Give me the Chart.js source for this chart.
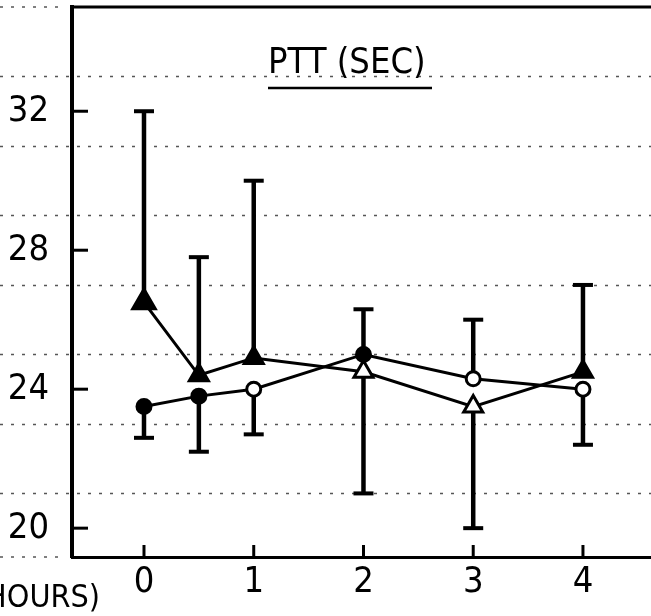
<!DOCTYPE html>
<html>
<head>
<meta charset="utf-8">
<title>PTT (SEC)</title>
<script src="https://cdn.jsdelivr.net/npm/chart.js@4.4.1/dist/chart.umd.min.js"></script>
<style>
    html, body { margin: 0; padding: 0; background: #fff; }
    canvas { display: block; }
</style>
</head>
<body>
<canvas id="pttChart" width="651" height="616"></canvas>
<script>
// Time points (hours) and axis ticks
const hours = [0, 0.5, 1, 2, 3, 4];
const xTicks = [0, 1, 2, 3, 4];
const yTicks = [20, 24, 28, 32];
const guideLines = [21, 23, 25, 27, 29, 31, 33];

// Triangle series: mean and the end of its error bar
const triMean = [26.5, 24.4, 24.9, 24.5, 23.5, 24.5];
const triBarEnd = [32.0, 27.8, 30.0, 21.0, 20.0, 27.0];

// Circle series: mean and the end of its error bar
const circMean = [23.5, 23.8, 24.0, 25.0, 24.3, 24.0];
const circBarEnd = [22.6, 22.2, 22.7, 26.3, 26.0, 22.4];

const FONT = '"Liberation Sans Narrow", "DejaVu Sans Condensed", sans-serif';

// Frame, inward ticks, dotted paper lines and error bars
const scanExtras = {
    id: 'scanExtras',
    beforeDatasetsDraw(chart) {
        const { ctx, chartArea, scales: { x, y } } = chart;
        ctx.save();

        // dotted paper lines across the whole sheet
        ctx.strokeStyle = '#555';
        ctx.lineWidth = 1.3;
        ctx.setLineDash([3, 8]);
        guideLines.forEach(v => {
            const py = Math.round(y.getPixelForValue(v)) + 0.5;
            ctx.beginPath();
            ctx.moveTo(0, py);
            ctx.lineTo(chart.width, py);
            ctx.stroke();
        });
        // faint continuation of top and bottom rules to the left
        [chartArea.top, chartArea.bottom].forEach(py => {
            ctx.beginPath();
            ctx.moveTo(0, py);
            ctx.lineTo(chartArea.left - 12, py);
            ctx.stroke();
        });
        ctx.setLineDash([]);

        // top rule of the frame
        ctx.strokeStyle = '#000';
        ctx.lineWidth = 3;
        ctx.beginPath();
        ctx.moveTo(chartArea.left - 2, chartArea.top);
        ctx.lineTo(chartArea.right, chartArea.top);
        ctx.stroke();

        // inward tick marks
        yTicks.forEach(v => {
            const py = y.getPixelForValue(v);
            ctx.beginPath();
            ctx.moveTo(chartArea.left, py);
            ctx.lineTo(chartArea.left + 16, py);
            ctx.stroke();
        });
        xTicks.forEach(v => {
            const px = x.getPixelForValue(v);
            ctx.beginPath();
            ctx.moveTo(px, chartArea.bottom);
            ctx.lineTo(px, chartArea.bottom - 12);
            ctx.stroke();
        });

        // error bars (one-sided, with caps)
        [[triMean, triBarEnd], [circMean, circBarEnd]].forEach(([mean, end]) => {
            hours.forEach((h, i) => {
                const px = x.getPixelForValue(h);
                const p0 = y.getPixelForValue(mean[i]);
                const p1 = y.getPixelForValue(end[i]);
                ctx.lineWidth = 4.5;
                ctx.beginPath();
                ctx.moveTo(px, p0);
                ctx.lineTo(px, p1);
                ctx.stroke();
                ctx.lineWidth = 4;
                ctx.beginPath();
                ctx.moveTo(px - 10, p1);
                ctx.lineTo(px + 10, p1);
                ctx.stroke();
            });
        });
        ctx.restore();
    },
    afterDraw(chart) {
        const ctx = chart.ctx;
        ctx.save();
        ctx.fillStyle = '#000';
        ctx.strokeStyle = '#000';
        ctx.textBaseline = 'middle';

        // panel title, underlined
        ctx.font = `36px ${FONT}`;
        ctx.textAlign = 'left';
        ctx.fillText('PTT (SEC)', 268, 64);
        ctx.lineWidth = 2.5;
        ctx.beginPath();
        ctx.moveTo(268, 88);
        ctx.lineTo(432, 88);
        ctx.stroke();

        // x axis label, cut at the sheet edge
        ctx.font = `32px ${FONT}`;
        ctx.textAlign = 'right';
        ctx.fillText('(HOURS)', 100, 599);
        ctx.restore();
    }
};

// Drop the label overhang padding so the frame fills the sheet
function fixPadding(scale) {
    scale.paddingTop = 0;
    scale.paddingBottom = 0;
    scale.paddingLeft = 0;
    scale.paddingRight = 0;
}

document.addEventListener('DOMContentLoaded', function() {
    const canvas = document.getElementById('pttChart');

    new Chart(canvas.getContext('2d'), {
        type: 'line',
        data: {
            datasets: [{
                label: 'Triangles',
                data: hours.map((h, i) => ({ x: h, y: triMean[i] })),
                borderColor: '#000',
                borderWidth: 3,
                tension: 0,
                pointStyle: 'triangle',
                pointRadius: [13, 11, 11, 11, 11, 11],
                pointBorderWidth: 3,
                pointBorderColor: '#000',
                pointBackgroundColor: ['#000', '#000', '#000', '#fff', '#fff', '#000']
            }, {
                label: 'Circles',
                data: hours.map((h, i) => ({ x: h, y: circMean[i] })),
                borderColor: '#000',
                borderWidth: 3,
                tension: 0,
                pointStyle: 'circle',
                pointRadius: 7,
                pointBorderWidth: 3,
                pointBorderColor: '#000',
                pointBackgroundColor: ['#000', '#000', '#fff', '#000', '#fff', '#fff']
            }]
        },
        options: {
            responsive: false,
            devicePixelRatio: 1,
            animation: false,
            layout: {
                autoPadding: false,
                padding: { top: 7, left: 0, right: 0, bottom: 0 }
            },
            plugins: {
                legend: { display: false },
                tooltip: { enabled: false }
            },
            scales: {
                x: {
                    type: 'linear',
                    min: -0.656,
                    max: 4.62,
                    afterBuildTicks: scale => { scale.ticks = xTicks.map(v => ({ value: v })); },
                    afterFit: scale => { scale.height = 59; fixPadding(scale); },
                    ticks: {
                        color: '#000',
                        padding: 4,
                        font: { family: FONT, size: 36 }
                    },
                    grid: { display: false, drawTicks: false },
                    border: { display: true, color: '#000', width: 3 }
                },
                y: {
                    min: 19.17,
                    max: 35,
                    afterBuildTicks: scale => { scale.ticks = yTicks.map(v => ({ value: v })); },
                    afterFit: scale => { scale.width = 72; fixPadding(scale); },
                    ticks: {
                        color: '#000',
                        padding: 23,
                        font: { family: FONT, size: 36 }
                    },
                    grid: { display: false, drawTicks: false },
                    border: { display: true, color: '#000', width: 4 }
                }
            }
        },
        plugins: [scanExtras]
    });
});
</script>
</body>
</html>
